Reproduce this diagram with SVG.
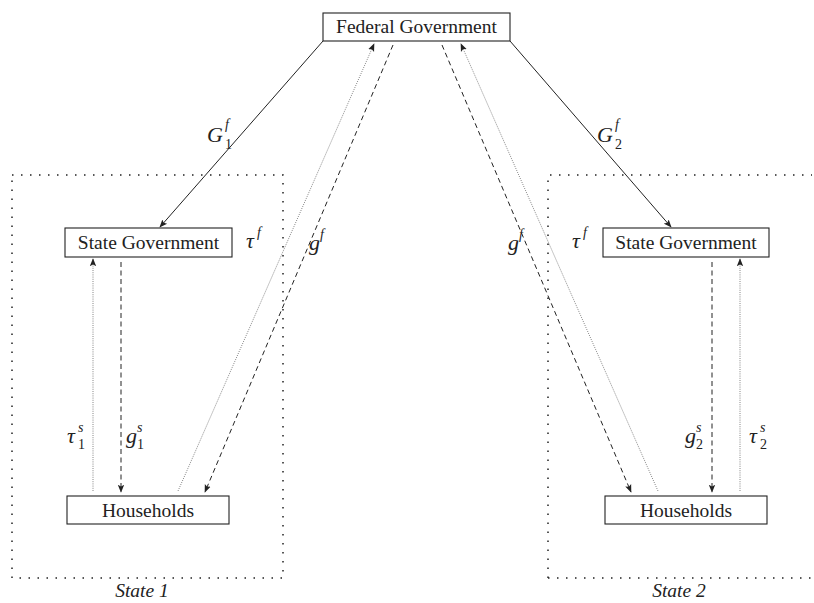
<svg xmlns="http://www.w3.org/2000/svg" width="814" height="603" viewBox="0 0 814 603">
<style>
.box{fill:#fff;stroke:#222;stroke-width:1.1}
.lbl{font-family:"Liberation Serif","DejaVu Serif",serif;font-size:19.5px;fill:#222;text-anchor:middle}
.m{font-family:"Liberation Serif","DejaVu Serif",serif;font-size:22px;font-style:italic;fill:#222}
.sm{font-size:14px}
.up{font-size:14px;font-style:normal}
.it{font-family:"Liberation Serif","DejaVu Serif",serif;font-size:19.5px;font-style:italic;fill:#222;text-anchor:middle}
.solid{stroke:#222;stroke-width:1;fill:none}
.dash{stroke:#222;stroke-width:1;fill:none;stroke-dasharray:5 3.5}
.dot{stroke:#666;stroke-width:0.8;fill:none;stroke-dasharray:1 1.2}
.region{stroke:#222;stroke-width:1.5;fill:none;stroke-dasharray:1.5 7.5}
</style>
<defs>
<marker id="ah" viewBox="0 0 10 10" refX="9" refY="5" markerWidth="8" markerHeight="8" markerUnits="userSpaceOnUse" orient="auto">
<path d="M0,1 L10,5 L0,9 L2,5 Z" fill="#222"/>
</marker>
</defs>
<rect width="814" height="603" fill="#fff"/>
<g id="state1-region">
<rect class="region" x="12" y="175" width="271" height="403"/>
<text class="it" x="142" y="597">State 1</text>
</g>
<g id="state2-region">
<path class="region" d="M548,578 L548,175 L812,175 M548,578 L812,578"/>
<text class="it" x="679" y="597">State 2</text>
</g>
<g id="connectors">
<line class="solid" x1="323" y1="41" x2="160" y2="227" marker-end="url(#ah)"/>
<line class="solid" x1="510" y1="41" x2="671" y2="227" marker-end="url(#ah)"/>
<line class="dot" x1="93" y1="491" x2="93" y2="259" marker-end="url(#ah)"/>
<line class="dash" x1="121" y1="262" x2="121" y2="492" marker-end="url(#ah)"/>
<line class="dash" x1="712" y1="262" x2="712" y2="492" marker-end="url(#ah)"/>
<line class="dot" x1="740" y1="491" x2="740" y2="259" marker-end="url(#ah)"/>
<line class="dot" x1="178" y1="491" x2="374" y2="44" marker-end="url(#ah)"/>
<line class="dash" x1="393" y1="45" x2="205" y2="492" marker-end="url(#ah)"/>
<line class="dash" x1="442" y1="45" x2="631" y2="492" marker-end="url(#ah)"/>
<line class="dot" x1="658" y1="491" x2="461" y2="44" marker-end="url(#ah)"/>
</g>
<g id="labels">
<text class="m" x="207" y="142">G<tspan class="sm" x="225" y="129">f</tspan><tspan class="up" x="225" y="149">1</tspan></text>
<text class="m" x="597" y="142">G<tspan class="sm" x="615" y="129">f</tspan><tspan class="up" x="615" y="149">2</tspan></text>
<text class="m" x="67" y="443">τ<tspan class="sm" x="78" y="432">s</tspan><tspan class="up" x="78" y="449">1</tspan></text>
<text class="m" x="126" y="443">g<tspan class="sm" x="137" y="432">s</tspan><tspan class="up" x="137" y="449">1</tspan></text>
<text class="m" x="685" y="443">g<tspan class="sm" x="696" y="432">s</tspan><tspan class="up" x="696" y="449">2</tspan></text>
<text class="m" x="749" y="443">τ<tspan class="sm" x="760" y="432">s</tspan><tspan class="up" x="760" y="449">2</tspan></text>
<text class="m" x="246" y="248">τ<tspan class="sm" x="257" y="237">f</tspan></text>
<text class="m" x="309" y="250">g<tspan class="sm" x="320" y="239">f</tspan></text>
<text class="m" x="508" y="250">g<tspan class="sm" x="519" y="239">f</tspan></text>
<text class="m" x="572" y="248">τ<tspan class="sm" x="583" y="237">f</tspan></text>
</g>
<g id="federal">
<rect class="box" x="323" y="13" width="187" height="28"/>
<text class="lbl" x="416.5" y="33">Federal Government</text>
</g>
<g id="state-gov-1">
<rect class="box" x="65" y="228" width="167" height="29"/>
<text class="lbl" x="148.5" y="249">State Government</text>
</g>
<g id="state-gov-2">
<rect class="box" x="603" y="228" width="166" height="29"/>
<text class="lbl" x="686" y="249">State Government</text>
</g>
<g id="households-1">
<rect class="box" x="67" y="496" width="162" height="28"/>
<text class="lbl" x="148" y="517">Households</text>
</g>
<g id="households-2">
<rect class="box" x="605" y="496" width="162" height="28"/>
<text class="lbl" x="686" y="517">Households</text>
</g>
</svg>
